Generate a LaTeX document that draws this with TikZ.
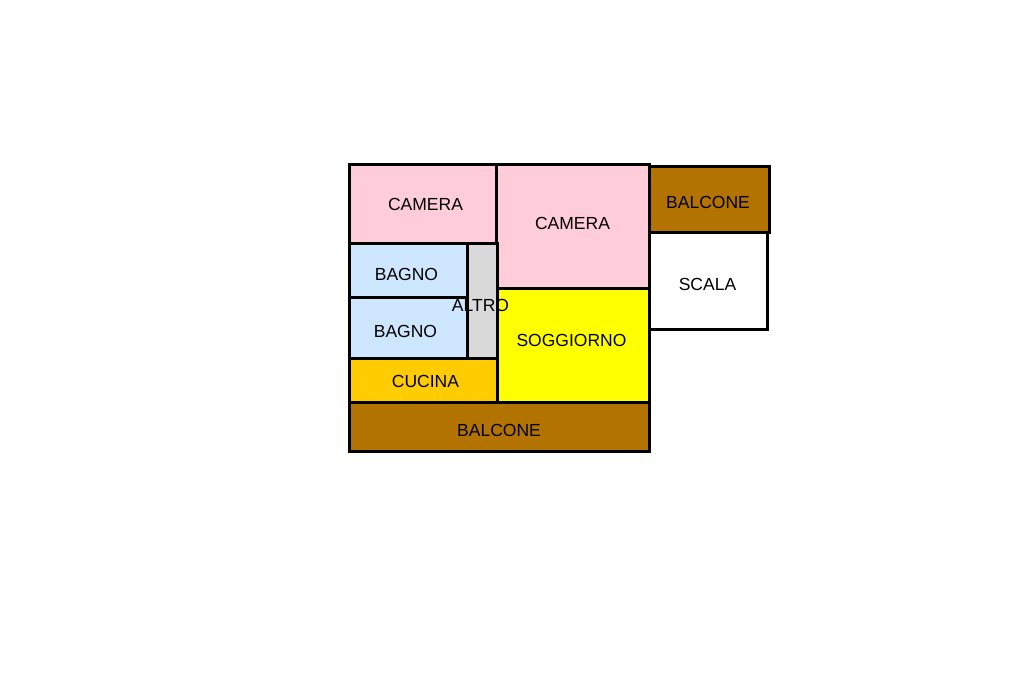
\documentclass[tikz,border=0pt]{standalone}
\usepackage{fontspec}
\setmainfont{Liberation Sans}
\usepackage{tikz}
\usetikzlibrary{positioning}
\definecolor{camerapink}{HTML}{FFCCD9}
\definecolor{bagnoblue}{HTML}{CFE6FF}
\definecolor{altrogray}{HTML}{D9D9D9}
\definecolor{cucinaorange}{HTML}{FFCC00}
\definecolor{soggiornoyellow}{RGB}{255,255,0}
\definecolor{balconebrown}{HTML}{B27300}

\begin{document}
\begin{tikzpicture}[x=1pt,y=-1pt]
        \tikzstyle{room}=[draw=black,line width=3pt,inner sep=0pt,outer sep=0pt,anchor=north west]
        \tikzstyle{roomname}=[font=\fontsize{17.5pt}{20pt}\selectfont,text=black,inner sep=0pt]
        \useasboundingbox (0,0) rectangle (1024,682);
        \fill[white] (0,0) rectangle (1024,682);
        % rooms
        \node[room,fill=camerapink,minimum width=147pt,minimum height=78.5pt] (Camera1) at (349.5,164.5) {};
        \node[room,fill=camerapink,minimum width=152.5pt,minimum height=123.5pt] (Camera2) at (496.5,164.5) {};
        \node[room,fill=white,minimum width=118.5pt,minimum height=97pt] (Scala) at (649,232) {};
        \node[room,fill=balconebrown,minimum width=120pt,minimum height=66pt] (BalconeTop) at (649,166) {};
        \node[room,fill=bagnoblue,minimum width=117.5pt,minimum height=54pt] (Bagno1) at (349.5,243) {};
        \node[room,fill=bagnoblue,minimum width=117.5pt,minimum height=61pt] (Bagno2) at (349.5,297) {};
        \node[room,fill=altrogray,minimum width=30.5pt,minimum height=115pt] (Altro) at (467,243) {};
        \node[room,fill=cucinaorange,minimum width=148pt,minimum height=44pt] (Cucina) at (349.5,358) {};
        \node[room,fill=soggiornoyellow,minimum width=152pt,minimum height=114pt] (Soggiorno) at (497.5,288) {};
        \node[room,fill=balconebrown,minimum width=300pt,minimum height=49pt] (BalconeBottom) at (349.5,402) {};
        % names
        \node[roomname] (nCamera1) at (425.5,204.5) {CAMERA};
        \node[roomname] (nCamera2) at (572.5,223.5) {CAMERA};
        \node[roomname] (nBalconeTop) at (708,202.5) {BALCONE};
        \node[roomname] (nScala) at (707.5,284.5) {SCALA};
        \node[roomname] (nBagno1) at (406.5,274.5) {BAGNO};
        \node[roomname] (nBagno2) at (405.5,331.5) {BAGNO};
        \node[roomname] (nAltro) at (480.5,305) {ALTRO};
        \node[roomname] (nSoggiorno) at (571.5,340.5) {SOGGIORNO};
        \node[roomname] (nCucina) at (425.5,381.5) {CUCINA};
        \node[roomname] (nBalconeBottom) at (499,430.5) {BALCONE};
    \end{tikzpicture}
\end{document}
